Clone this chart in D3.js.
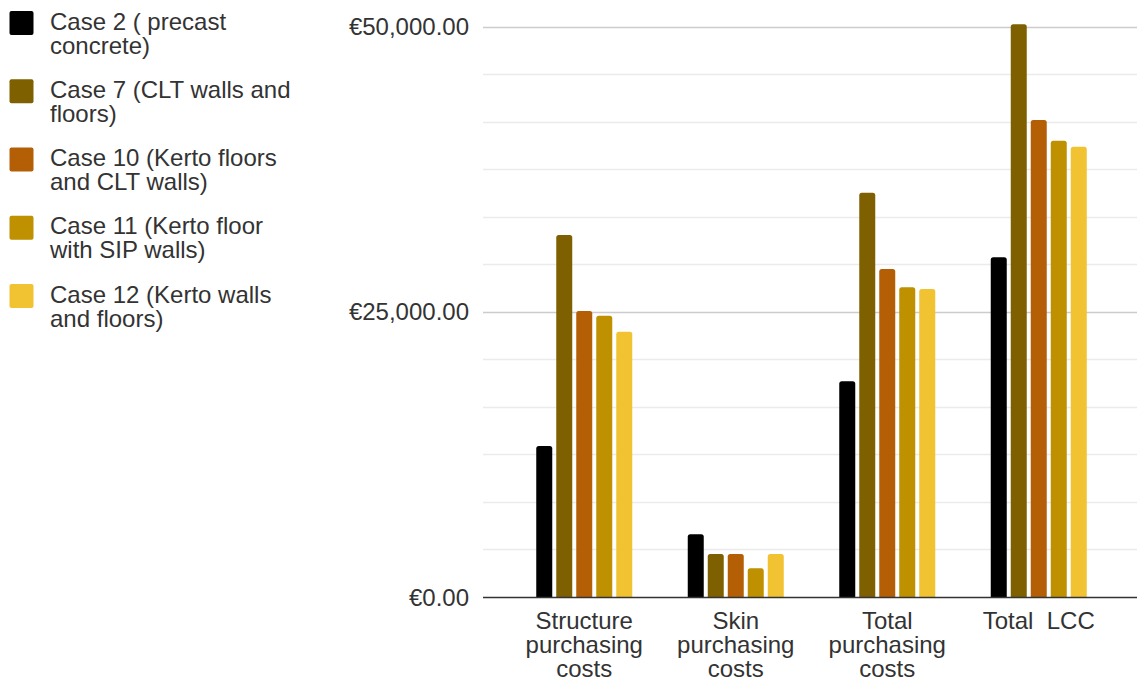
<!DOCTYPE html>
<html>
<head>
<meta charset="utf-8">
<script src="https://cdn.jsdelivr.net/npm/d3@7"></script>
<style>
  html, body { margin: 0; padding: 0; background: #fff; }
  svg { display: block; font-family: "Liberation Sans", Arial, sans-serif; }
</style>
</head>
<body>
<svg id="chart" width="1137" height="681"></svg>
<script>
// Cost categories (wrapped axis labels)
const categories = ["Structure purchasing costs", "Skin purchasing costs", "Total purchasing costs", "Total  LCC"];
const categoryLines = [["Structure", "purchasing", "costs"], ["Skin", "purchasing", "costs"], ["Total", "purchasing", "costs"], ["Total  LCC"]];

// Series names (legend, wrapped)
const seriesNames = ["Case 2", "Case 7", "Case 10", "Case 11", "Case 12"];
const seriesLegend = [
  ["Case 2 ( precast", "concrete)"],
  ["Case 7 (CLT walls and", "floors)"],
  ["Case 10 (Kerto floors", "and CLT walls)"],
  ["Case 11 (Kerto floor", "with SIP walls)"],
  ["Case 12 (Kerto walls", "and floors)"]
];
const seriesColors = ["#000000", "#7f6000", "#b45f06", "#bf9000", "#f1c232"];

// Costs in euros, per category
const case2Values  = [13230, 5490, 18900, 29770];
const case7Values  = [31730, 3770, 35430, 50200];
const case10Values = [25070, 3770, 28750, 41800];
const case11Values = [24650, 2510, 27140, 39990];
const case12Values = [23250, 3770, 27000, 39470];
const seriesValues = [case2Values, case7Values, case10Values, case11Values, case12Values];

// Axis ticks
const majorTicks = [0, 25000, 50000];
const minorTicks = d3.range(1, 12).map(i => i * 50000 / 12).filter(v => Math.abs(v - 25000) > 1);

const svg = d3.select("#chart");
const textColor = "#333333";
const fontSize = 24;

const y = d3.scaleLinear().domain([0, 50000]).range([597, 26.5]);
const x = d3.scaleBand().domain(categories).range([508.5, 1114.5]).padding(0);
const xs = d3.scaleBand().domain(seriesNames).range([-48, 48]).paddingInner(0.2).paddingOuter(0);

const gridLeft = 483, gridRight = 1137;

// Minor gridlines
svg.append("g").selectAll("line").data(minorTicks).join("line")
  .attr("x1", gridLeft).attr("x2", gridRight)
  .attr("y1", d => Math.round(y(d)) + 0.5).attr("y2", d => Math.round(y(d)) + 0.5)
  .attr("stroke", "#ebebeb").attr("stroke-width", 1.5);

// Major gridlines
svg.append("g").selectAll("line").data(majorTicks.filter(d => d > 0)).join("line")
  .attr("x1", gridLeft).attr("x2", gridRight)
  .attr("y1", d => Math.round(y(d)) + 0.5).attr("y2", d => Math.round(y(d)) + 0.5)
  .attr("stroke", "#cccccc").attr("stroke-width", 1.5);

// Y axis labels
const fmt = d3.format(",.2f");
svg.append("g").selectAll("text").data(majorTicks).join("text")
  .attr("x", 469).attr("y", d => y(d))
  .attr("dy", "0.36em")
  .attr("text-anchor", "end")
  .attr("font-size", fontSize).attr("fill", textColor)
  .text(d => "€" + fmt(d));

// Bars with slightly rounded tops
function barPath(x0, w, yTop, yBase, r) {
  const rr = Math.min(r, (yBase - yTop) / 2, w / 2);
  return `M${x0},${yBase}V${yTop + rr}Q${x0},${yTop} ${x0 + rr},${yTop}H${x0 + w - rr}Q${x0 + w},${yTop} ${x0 + w},${yTop + rr}V${yBase}Z`;
}

const barData = [];
seriesValues.forEach((vals, si) => {
  vals.forEach((v, ci) => barData.push({ series: seriesNames[si], color: seriesColors[si], category: categories[ci], value: v }));
});

svg.append("g").selectAll("path").data(barData).join("path")
  .attr("d", d => barPath(x(d.category) + x.bandwidth() / 2 + xs(d.series), xs.bandwidth(), y(d.value), y(0), 2.5))
  .attr("fill", d => d.color);

// Baseline
svg.append("line")
  .attr("x1", gridLeft).attr("x2", gridRight)
  .attr("y1", Math.round(y(0)) + 0.5).attr("y2", Math.round(y(0)) + 0.5)
  .attr("stroke", "#333333").attr("stroke-width", 1.5);

// X axis labels
const xl = svg.append("g").selectAll("text").data(categories).join("text")
  .attr("x", d => x(d) + x.bandwidth() / 2)
  .attr("y", 629)
  .attr("text-anchor", "middle")
  .attr("font-size", fontSize).attr("fill", textColor)
  .style("white-space", "pre");
xl.each(function(d, i) {
  d3.select(this).selectAll("tspan").data(categoryLines[i]).join("tspan")
    .attr("x", x(d) + x.bandwidth() / 2)
    .attr("dy", (t, j) => j === 0 ? 0 : 24)
    .text(t => t);
});

// Legend
const legend = svg.append("g").selectAll("g").data(seriesNames).join("g")
  .attr("transform", (d, i) => `translate(0, ${11 + i * 68.25})`);
legend.append("rect")
  .attr("x", 9.5).attr("y", 0).attr("width", 24).attr("height", 24)
  .attr("rx", 2).attr("fill", (d, i) => seriesColors[i]);
legend.append("text")
  .attr("x", 50).attr("y", 18.5)
  .attr("font-size", fontSize).attr("fill", textColor)
  .each(function(d, i) {
    d3.select(this).selectAll("tspan").data(seriesLegend[i]).join("tspan")
      .attr("x", 50)
      .attr("dy", (t, j) => j === 0 ? 0 : 24)
      .text(t => t);
  });
</script>
</body>
</html>
